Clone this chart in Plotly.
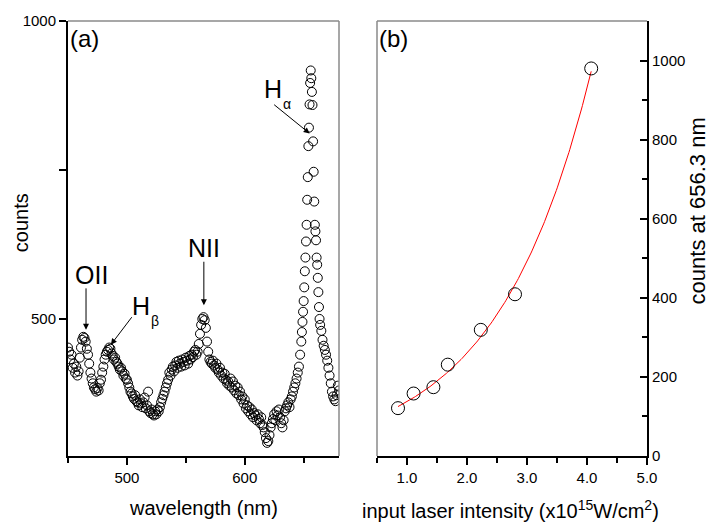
import numpy as np
import plotly.graph_objects as go

# ---------------- panel (a): emission spectrum ----------------
wavelength_nm = [
    450, 451, 452, 453, 454, 455, 456, 457, 458, 459,
    460, 461, 462, 463, 464, 465, 466, 467, 468, 469,
    470, 471, 472, 473, 474, 475, 476, 477, 478, 479,
    480, 481, 482, 483, 484, 485, 486, 487, 488, 489,
    490, 491, 492, 493, 494, 495, 496, 497, 498, 499,
    500, 501, 502, 503, 504, 505, 506, 507, 508, 509,
    510, 511, 512, 513, 514, 515, 516, 517, 518, 519,
    520, 521, 522, 523, 524, 525, 526, 527, 528, 529,
    530, 531, 532, 533, 534, 535, 536, 537, 538, 539,
    540, 541, 542, 543, 544, 545, 546, 547, 548, 549,
    550, 551, 552, 553, 554, 555, 556, 557, 558, 559,
    560, 561, 562, 563, 564, 565, 566, 567, 568, 569,
    570, 571, 572, 573, 574, 575, 576, 577, 578, 579,
    580, 581, 582, 583, 584, 585, 586, 587, 588, 589,
    590, 591, 592, 593, 594, 595, 596, 597, 598, 599,
    600, 601, 602, 603, 604, 605, 606, 607, 608, 609,
    610, 611, 612, 613, 614, 615, 616, 617, 618, 619,
    620, 621, 622, 623, 624, 625, 626, 627, 628, 629,
    630, 631, 632, 633, 634, 635, 636, 637, 638, 639,
    640, 641, 642, 643, 644, 645, 646, 647,
    648, 648.5, 649, 649.5, 650, 650.5, 651, 651.5, 652, 652.5,
    653, 653.5, 654, 654.5, 655, 655.5, 656, 656.5, 657, 657.5,
    658, 658.5, 659, 659.5, 660, 660.5, 661, 661.5, 662, 662.5,
    663, 663.5, 664,
    665, 666, 667, 668, 669, 670, 671, 672, 673, 674,
    675, 676, 677, 678, 679, 680,
]

spectrum_counts = [
    452, 445, 432, 440, 418, 425, 410, 420, 405, 412,
    435, 452, 465, 470, 468, 462, 450, 440, 425, 410,
    400, 392, 385, 382, 378, 384, 380, 392, 398, 410,
    420, 432, 440, 445, 448, 452, 450, 442, 438, 432,
    435, 428, 425, 420, 415, 418, 412, 405, 408, 400,
    398, 392, 385, 378, 375, 370, 366, 372, 362, 360,
    355, 365, 358, 352, 360, 368, 350, 355, 378, 345,
    342, 348, 340, 338, 345, 340, 348, 345, 352, 360,
    366, 372, 378, 385, 392, 398, 410, 405, 415, 420,
    412, 422, 428, 418, 430, 425, 420, 432, 428, 422,
    435, 430, 425, 438, 432, 440, 436, 445, 448, 440,
    445, 458, 475, 490, 500, 503, 498, 485, 462, 445,
    432, 428, 425, 430, 422, 418, 425, 415, 410, 418,
    405, 410, 400, 408, 398, 392, 395, 388, 400, 385,
    395, 380, 388, 375, 385, 372, 378, 365, 370, 358,
    365, 350, 355, 345, 352, 340, 348, 335, 342, 338,
    330, 340, 332, 325, 335, 322, 318, 310, 300, 292,
    295, 305, 318, 325, 332, 340, 330, 345, 338, 348,
    335, 325, 318, 330, 345, 350, 355, 360, 352, 365,
    370, 378, 385, 392, 400, 410, 420, 440,
    462, 478, 495, 512, 530, 553, 580, 603, 630, 658,
    700, 738, 790, 821, 860, 896, 917, 904, 881, 859,
    798, 747, 697, 658, 647, 632, 603, 591, 569, 545,
    520, 500, 490,
    480, 465, 455, 448, 440, 430, 418, 405, 392, 378,
    370, 365, 362, 372, 388, 380,
]

# ---------------- panel (b): H-alpha line vs. laser intensity ----------------
laser_intensity = [0.85, 1.11, 1.44, 1.68, 2.23, 2.80, 4.07]   # x10^15 W/cm^2
halpha_counts = [121, 158, 174, 231, 319, 409, 980]

# exponential fit  counts = A * exp(B * I)
fit_A = 72.7
fit_B = 0.6373
fit_range = (0.85, 4.07)

fit_x = np.linspace(fit_range[0], fit_range[1], 200)
fit_y = fit_A * np.exp(fit_B * fit_x)

FONT = "Liberation Sans, Arial, Helvetica, sans-serif"
BLACK = "#000000"
GREY = "#8a8a8a"

fig = go.Figure()

fig.add_trace(go.Scatter(
    x=wavelength_nm, y=spectrum_counts, mode="markers",
    marker=dict(symbol="circle-open", size=9, color=BLACK, line=dict(width=1, color=BLACK)),
    xaxis="x", yaxis="y", showlegend=False, hoverinfo="skip",
))

fig.add_trace(go.Scatter(
    x=fit_x, y=fit_y, mode="lines", line=dict(color="#ff0000", width=1),
    xaxis="x2", yaxis="y2", showlegend=False, hoverinfo="skip",
))
fig.add_trace(go.Scatter(
    x=laser_intensity, y=halpha_counts, mode="markers",
    marker=dict(symbol="circle-open", size=13, color=BLACK, line=dict(width=1, color=BLACK)),
    xaxis="x2", yaxis="y2", showlegend=False, hoverinfo="skip",
))

L, R, T, B = 68, 63, 15, 71
W, H = 710, 527
PW, PH = W - L - R, H - T - B


def px(xp):
    return (xp - L) / PW


def py(yp):
    return (H - B - yp) / PH


common_axis = dict(
    showline=True, linecolor=BLACK, linewidth=2, showgrid=False, zeroline=False,
    ticks="outside", ticklen=7, tickwidth=1.5, tickcolor=BLACK,
    tickfont=dict(family=FONT, size=15, color=BLACK),
)

fig.update_layout(
    width=W, height=H,
    margin=dict(l=L, r=R, t=T, b=B),
    paper_bgcolor="white", plot_bgcolor="white",
    font=dict(family=FONT, color=BLACK),
    xaxis=dict(common_axis, domain=[0, px(339)], range=[450, 680], tick0=0, dtick=100,
               minor=dict(ticks="outside", ticklen=5, tickwidth=1.5, tickcolor=BLACK, dtick=50),
               anchor="y"),
    yaxis=dict(common_axis, domain=[0, 1], range=[270, 1000], tick0=0, dtick=500,
               minor=dict(ticks="outside", ticklen=7, tickwidth=1.5, tickcolor=BLACK, dtick=250),
               anchor="x"),
    xaxis2=dict(common_axis, domain=[px(377), 1], range=[0.5, 5.0], tick0=0, dtick=1,
                tickformat=".1f",
                minor=dict(ticks="outside", ticklen=5, tickwidth=1.5, tickcolor=BLACK, dtick=0.5),
                anchor="y2"),
    yaxis2=dict(common_axis, domain=[0, 1], range=[0, 1100], tick0=0, dtick=200,
                side="right", ticks="inside",
                minor=dict(ticks="inside", ticklen=5, tickwidth=1.5, tickcolor=BLACK, dtick=100),
                anchor="x2"),
)

# light frame on the non-axis sides of both panels
frame = dict(color=GREY, width=1.5)
fig.add_shape(type="line", xref="x domain", yref="y domain", x0=0, x1=1, y0=1, y1=1, line=frame)
fig.add_shape(type="line", xref="x domain", yref="y domain", x0=1, x1=1, y0=0, y1=1, line=frame)
fig.add_shape(type="line", xref="x2 domain", yref="y2 domain", x0=0, x1=1, y0=1, y1=1, line=frame)
fig.add_shape(type="line", xref="x2 domain", yref="y2 domain", x0=0, x1=0, y0=0, y1=1, line=frame)

ann = []


def text(x, y, s, size, xref="x", yref="y", **kw):
    d = dict(x=x, y=y, xref=xref, yref=yref, text=s, showarrow=False,
             xanchor="center", yanchor="middle",
             font=dict(family=FONT, size=size, color=BLACK))
    d.update(kw)
    ann.append(d)


def arrow(x, y, ax, ay):
    ann.append(dict(x=x, y=y, xref="x", yref="y", text="", showarrow=True,
                    ax=ax, ay=ay, arrowhead=2, arrowsize=1.2, arrowwidth=1,
                    arrowcolor=BLACK, standoff=0, startstandoff=0))


# panel letters
text(0.0, py(33), "(a)", 24, xref="x domain", yref="paper", xanchor="left")
text(0.0, py(33), "(b)", 24, xref="x2 domain", yref="paper", xanchor="left")

# line identifications
text(469.9, 573.6, "OII", 25)
arrow(465.3, 481.7, 0, -43)
text(512.3, 521.4, "H", 25)
text(523.7, 496.6, "β", 14)
arrow(486.4, 456.8, 22, -29)
text(565.3, 619, "NII", 25)
arrow(565.3, 523, 0, -45)
text(624.2, 885.7, "H", 25)
text(636.0, 861.2, "α", 14)
arrow(655.1, 811.2, -37, -30)

# axis titles
text(px(203.5), py(509), "wavelength (nm)", 20, xref="paper", yref="paper")
text(px(510.5), py(510), "input laser intensity (x10<sup>15</sup>W/cm<sup>2</sup>)", 20,
     xref="paper", yref="paper")
text(px(21), py(219), "counts", 20, xref="paper", yref="paper", textangle=-90)
text(px(697.5), py(207.5), "counts at 656.3 nm", 22, xref="paper", yref="paper", textangle=-90)

fig.update_layout(annotations=ann)

fig.write_html("out.html")
